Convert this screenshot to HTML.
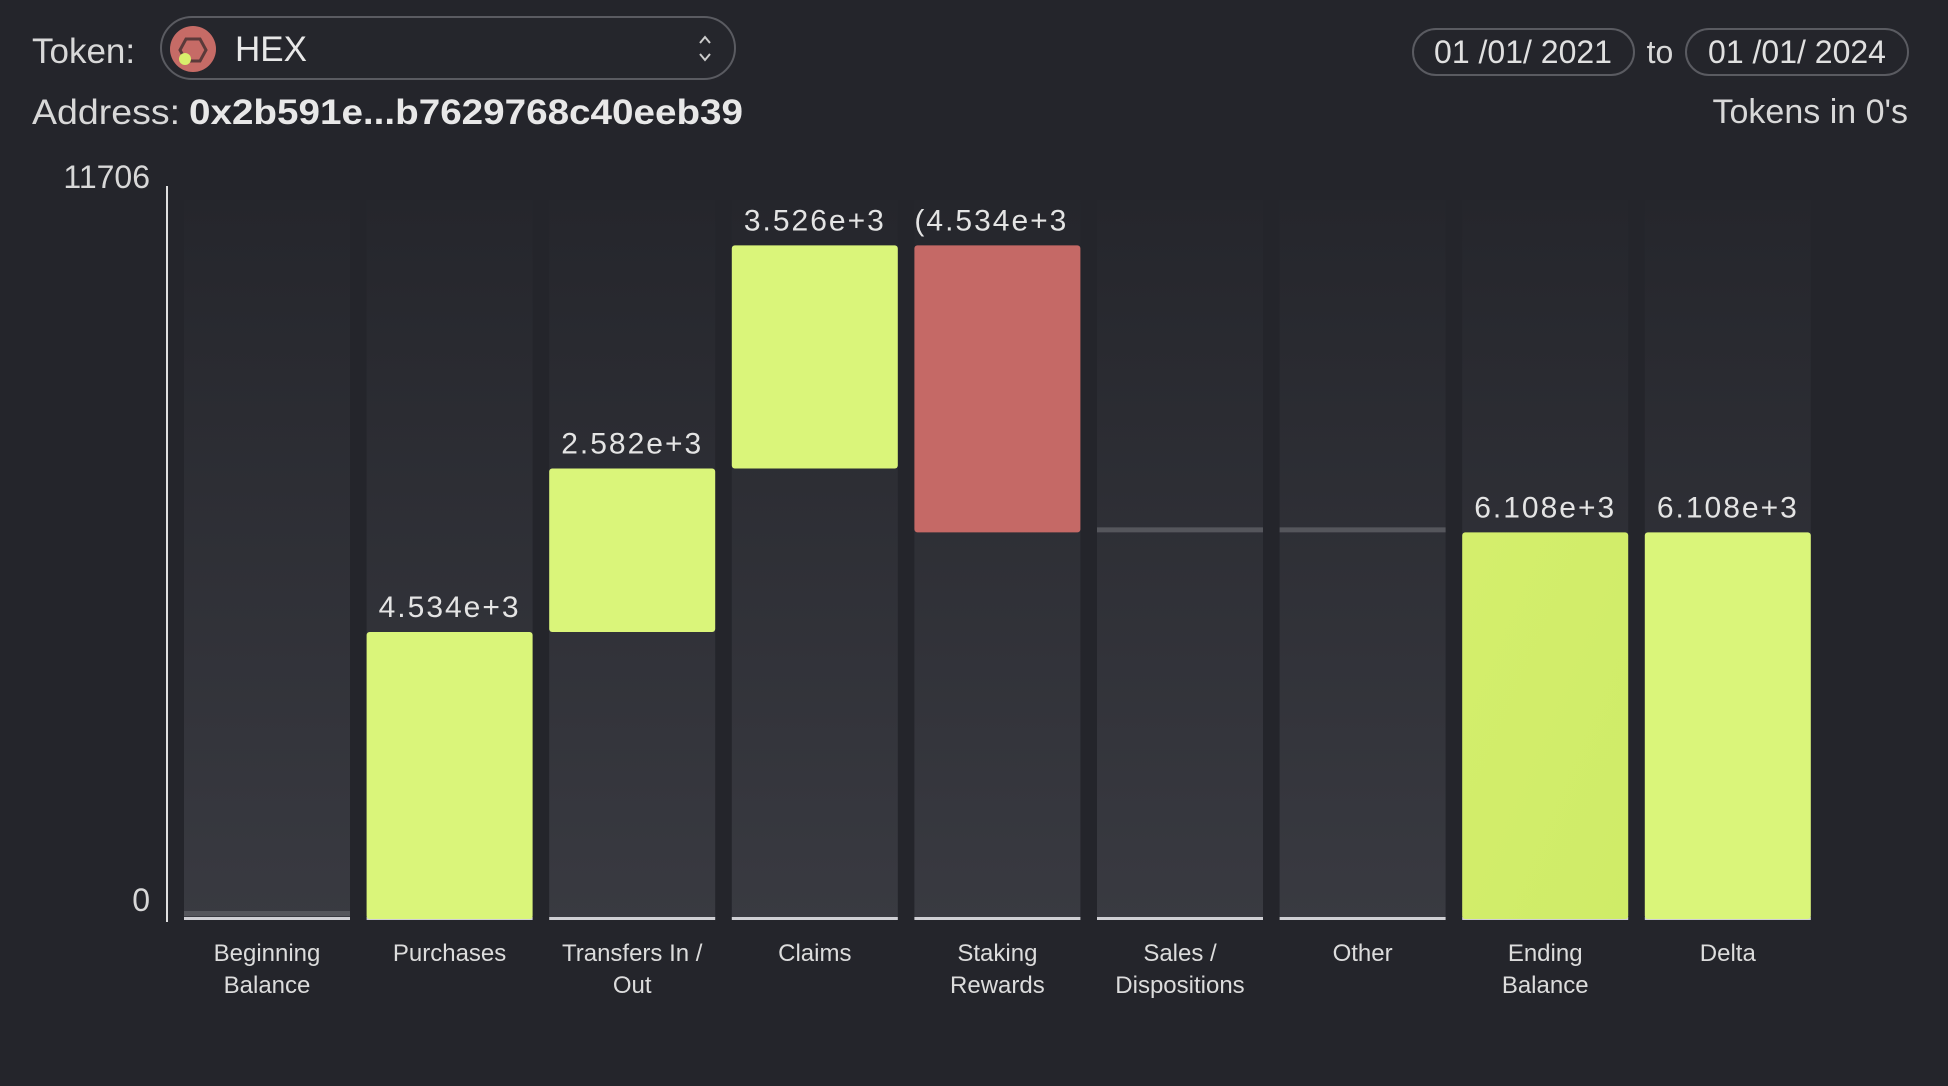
<!DOCTYPE html>
<html><head><meta charset="utf-8"><style>
html,body{margin:0;padding:0;background:#24252b;}
svg{display:block;font-family:"Liberation Sans",sans-serif;}
</style></head><body>
<svg id="chart" width="1948" height="1086" viewBox="0 0 1948 1086" xmlns="http://www.w3.org/2000/svg">
<defs>
<linearGradient id="colg" x1="0" y1="0" x2="0" y2="1"><stop offset="0" stop-color="#25262c"/><stop offset="1" stop-color="#393a41"/></linearGradient>
<linearGradient id="endg" x1="0" y1="0" x2="1" y2="1"><stop offset="0" stop-color="#d4ee6c"/><stop offset="1" stop-color="#cfec68"/></linearGradient>
</defs>
<rect width="1948" height="1086" fill="#24252b"/>
<text x="32" y="63" font-size="35" fill="#d8d8d8">Token:</text>
<g>
<rect x="161" y="17" width="574" height="62" rx="31" fill="#25262c" stroke="#5a5b61" stroke-width="2"/>
<circle cx="193" cy="49" r="23" fill="#c66b66"/>
<polygon points="186,39 200,39 206,50 200,61 186,61 180,50" fill="none" stroke="#5a3a3a" stroke-width="3"/>
<circle cx="185" cy="59" r="6" fill="#d8ef6c"/>
<text x="235" y="61" font-size="35" fill="#e8e8e8">HEX</text>
<path d="M700 43 l5 -6 l5 6 M700 54 l5 6 l5 -6" stroke="#ccc" stroke-width="2" fill="none"/>
</g>
<text x="32" y="124" font-size="35" fill="#d8d8d8" textLength="148" lengthAdjust="spacingAndGlyphs">Address:</text>
<text x="189" y="124" font-size="35" font-weight="bold" fill="#e8e8e8" textLength="554" lengthAdjust="spacingAndGlyphs">0x2b591e...b7629768c40eeb39</text>
<g><rect x="1413" y="29" width="221" height="46" rx="23" fill="none" stroke="#5a5b61" stroke-width="2"/>
<text x="1523" y="63" font-size="32" fill="#e0e0e0" text-anchor="middle">01 /01/ 2021</text></g>
<text x="1660" y="63" font-size="32" fill="#d8d8d8" text-anchor="middle">to</text>
<g><rect x="1686" y="29" width="222" height="46" rx="23" fill="none" stroke="#5a5b61" stroke-width="2"/>
<text x="1797" y="63" font-size="32" fill="#e0e0e0" text-anchor="middle">01 /01/ 2024</text></g>
<text x="1908" y="123" font-size="34" fill="#d8d8d8" text-anchor="end">Tokens in 0's</text>
<line x1="167" y1="186" x2="167" y2="922" stroke="#e0e0e0" stroke-width="2"/>
<g id="ticks"></g>
<g id="bars"></g>
</svg>
<script>
const categories=[["Beginning","Balance"],["Purchases"],["Transfers In /","Out"],["Claims"],["Staking","Rewards"],["Sales /","Dispositions"],["Other"],["Ending","Balance"],["Delta"]];
const starts=[0,0,4534,7116,10642,6108,6108,0,0];
const ends=[0,4534,7116,10642,6108,6108,6108,6108,6108];
const valueLabels=["","4.534e+3","2.582e+3","3.526e+3","(4.534e+3","","","6.108e+3","6.108e+3"];
const kinds=["zero","up","up","up","down","zero","zero","total","total"];
const tickValues=[0,11706];
const tickLabels=["0","11706"];
const NS="http://www.w3.org/2000/svg";
const yMax=11706;
function y(v){return 919-v*(919-178)/yMax;}
function xL(i){return 184+i*182.6;}
const BW=166;
function mk(tag,attrs,parent){const e=document.createElementNS(NS,tag);for(const k in attrs)e.setAttribute(k,attrs[k]);parent.appendChild(e);return e;}
const tg=document.getElementById('ticks');
tickValues.forEach((v,i)=>{
 const t=mk('text',{x:150,y:y(v)+(v===0?-8:10),'font-size':32,fill:'#d8d8d8','text-anchor':'end'},tg);
 
 
 t.textContent=tickLabels[i];
});
const bg=document.getElementById('bars');
categories.forEach((c,i)=>{
 const x=xL(i);
 const col=mk('rect',{x:x,y:200,width:BW,height:719,fill:'url(#colg)'},bg);
 
 
 const base=mk('rect',{x:x,y:917,width:BW,height:3,fill:'#cfcfd4'},bg);
 
 
 const top=Math.min(y(starts[i]),y(ends[i])),bot=Math.max(y(starts[i]),y(ends[i]));
 let fill=kinds[i]==='down'?'#c56966':(kinds[i]==='total'&&i===7?'url(#endg)':'#daf57a');
 if(kinds[i]==='zero'){
  const z=mk('rect',{x:x,y:y(ends[i])-(i===0?8:5),width:BW,height:5,fill:'#55565c'},bg);
  
  
 } else {
  const b=mk('rect',{x:x,y:top,width:BW,height:bot-top,rx:3,fill:fill},bg);
  
  
 }
 if(valueLabels[i]){
  const cx=x+BW/2;
  const lab=mk('text',{x:kinds[i]==='down'?x:cx,y:top-15,'font-size':30,fill:'#e4e4e4','letter-spacing':'2','text-anchor':kinds[i]==='down'?'start':'middle'},bg);
  
  
  lab.textContent=valueLabels[i];
  if(kinds[i]==='down'){
   const cp=mk('clipPath',{id:'clip'+i},bg);
   mk('rect',{x:x-5,y:0,width:BW+5,height:1086},cp);
   lab.setAttribute('clip-path','url(#clip'+i+')');
  }
 }
 c.forEach((line,j)=>{
  const t=mk('text',{x:x+BW/2,y:961+j*32,'font-size':24,fill:'#dcdcdc','text-anchor':'middle'},bg);
  
  
  t.textContent=line;
 });
});
</script>
</body></html>
